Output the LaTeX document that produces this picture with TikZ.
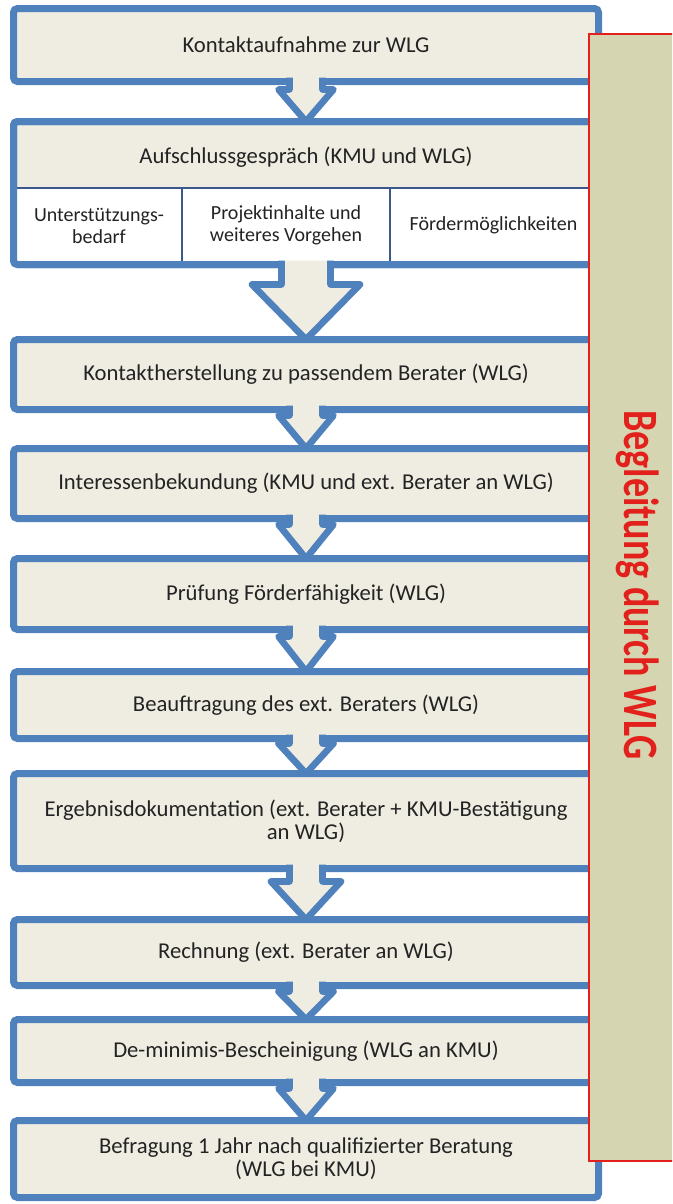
\documentclass[tikz,border=0pt]{standalone}
\usepackage{fontspec}
\setmainfont{Carlito}
\usepackage{graphicx}
\usepackage{tikz}
\usetikzlibrary{calc}
\definecolor{wlgblue}{RGB}{79,129,189}
\definecolor{wlgcream}{RGB}{239,237,226}
\definecolor{wlgolive}{RGB}{214,213,177}
\definecolor{wlgred}{RGB}{226,32,28}
\definecolor{wlgline}{RGB}{58,88,140}
\definecolor{wlgtext}{RGB}{35,35,35}

\tikzset{
  stepbox/.style={draw=wlgblue, line width=5.25pt, fill=wlgcream, rounded corners=3pt,
    minimum width=438.75pt, inner sep=0pt, outer sep=0pt, align=center,
    text=wlgtext, font=\fontsize{17}{17.5}\selectfont},
  boxh/.style={minimum height=#1*0.75pt},
  subbox/.style={draw=wlgline, line width=0.9pt, fill=white, inner sep=0pt, outer sep=0pt,
    minimum height=56.25pt, align=center, text=wlgtext, font=\fontsize{15}{16.5}\selectfont},
  panelbox/.style={draw=wlgred, line width=1.1pt, fill=wlgolive, inner sep=0pt, outer sep=0pt},
  flowfill/.style={fill=wlgcream},
  flowline/.style={draw=wlgblue, line width=5pt, line join=round},
}

\newcommand{\flowarrow}[5]{%
  \fill[flowfill] ($(#1.south)+(-#3,-4)$) -- ($(#1.south)+(-#3,#5)$) -- ($(#1.south)+(-#4,#5)$)
    -- (#2.north) -- ($(#1.south)+(#4,#5)$) -- ($(#1.south)+(#3,#5)$) -- ($(#1.south)+(#3,-4)$) -- cycle;
  \draw[flowline] ($(#1.south)+(-#3,-4)$) -- ($(#1.south)+(-#3,#5)$) -- ($(#1.south)+(-#4,#5)$)
    -- (#2.north) -- ($(#1.south)+(#4,#5)$) -- ($(#1.south)+(#3,#5)$) -- ($(#1.south)+(#3,-4)$);
}

\begin{document}
\begin{tikzpicture}[x=0.75pt,y=-0.75pt]
  \clip (0,0) rectangle (672,1204);
  \fill[white] (0,0) rectangle (672,1204);

  \node[stepbox, boxh=73] (b1) at (306,45) {Kontaktaufnahme zur WLG};
  \node[stepbox, boxh=143] (b2) at (306,193) {};
  \node[text=wlgtext, font=\fontsize{17}{17.5}\selectfont] (t2) at (306,157) {Aufschlussgespräch (KMU und WLG)};
  \node[subbox, minimum width=124.5pt] (s1) at (99,225.5) {Unterstützungs-\\bedarf};
  \node[subbox, minimum width=156pt] (s2) at (286,225.5) {Projektinhalte und\\weiteres Vorgehen};
  \node[subbox, minimum width=155.25pt] (s3) at (493.5,225.5) {Fördermöglichkeiten};
  \draw[wlgblue, line width=5.25pt, rounded corners=3pt] (b2.north west) rectangle (b2.south east);
  \node[stepbox, boxh=70] (b3) at (306,374.5) {Kontaktherstellung zu passendem Berater (WLG)};
  \node[stepbox, boxh=70] (b4) at (306,483.5) {Interessenbekundung (KMU und ext. Berater an WLG)};
  \node[stepbox, boxh=71] (b5) at (306,594) {Prüfung Förderfähigkeit (WLG)};
  \node[stepbox, boxh=67] (b6) at (306,705) {Beauftragung des ext. Beraters (WLG)};
  \node[stepbox, boxh=95] (b7) at (306,821) {Ergebnisdokumentation (ext. Berater + KMU-Bestätigung\\an WLG)};
  \node[stepbox, boxh=66] (b8) at (306,952.5) {Rechnung (ext. Berater an WLG)};
  \node[stepbox, boxh=63] (b9) at (306,1051) {De-minimis-Bescheinigung (WLG an KMU)};
  \node[stepbox, boxh=77] (b10) at (306,1159) {Befragung 1 Jahr nach qualifizierter Beratung\\(WLG bei KMU)};

  \flowarrow{b1}{b2}{16.5}{27.5}{8}
  \flowarrow{b2}{b3}{24.5}{54}{20}
  \flowarrow{b3}{b4}{16.5}{27.5}{6}
  \flowarrow{b4}{b5}{16.5}{27.5}{6}
  \flowarrow{b5}{b6}{16.5}{27.5}{7}
  \flowarrow{b6}{b7}{16.5}{27.5}{5}
  \flowarrow{b7}{b8}{16.5}{35}{13}
  \flowarrow{b8}{b9}{16.5}{27.5}{6}
  \flowarrow{b9}{b10}{16.5}{27.5}{6}

  \node[panelbox, minimum width=68.25pt, minimum height=845.25pt] (panel) at (634.5,597.5) {};
  \node[rotate=-90, text=wlgred, font=\fontsize{28.5}{30}\selectfont\bfseries] (plabel) at (638,585) {\scalebox{1}[1.3]{Begleitung durch WLG}};
\end{tikzpicture}
\end{document}
